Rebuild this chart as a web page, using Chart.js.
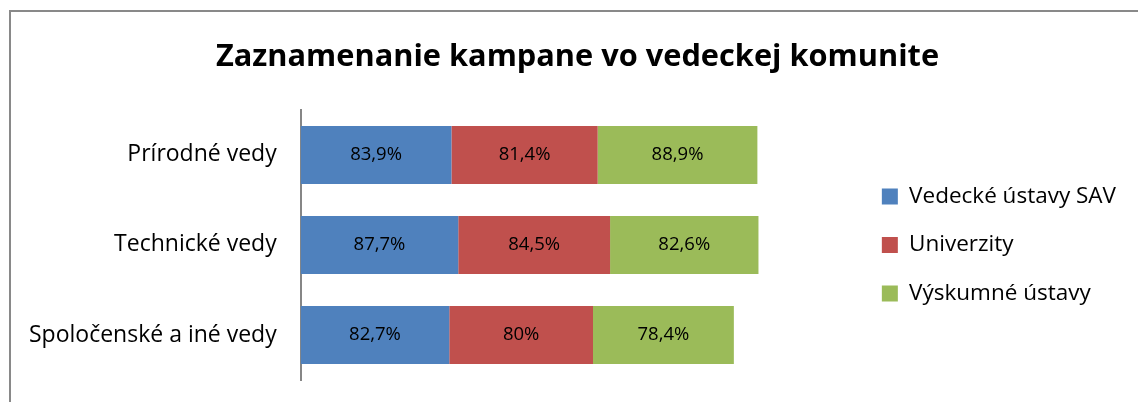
<!DOCTYPE html>
<html>
<head>
<meta charset="utf-8">
<script src="https://cdn.jsdelivr.net/npm/chart.js@4"></script>
<style>
  html, body { margin: 0; padding: 0; background: #fff; overflow: hidden; }
  .frame { position: absolute; left: 9px; top: 10px; width: 2000px; height: 1000px;
           border-left: 2px solid #898989; border-top: 2px solid #898989; }
  #myChart { position: absolute; left: 0; top: 0; }
</style>
</head>
<body>
<div class="frame"></div>
<canvas id="myChart" width="1138" height="402"></canvas>
<script>
const categories = ['Prírodné vedy', 'Technické vedy', 'Spoločenské a iné vedy'];
const seriesNames = ['Vedecké ústavy SAV', 'Univerzity', 'Výskumné ústavy'];
const sav = [83.9, 87.7, 82.7];
const univerzity = [81.4, 84.5, 80];
const vyskumne = [88.9, 82.6, 78.4];
const colors = ['#4f81bd', '#c0504d', '#9bbb59'];

const font = 'Open Sans';

// labels inside the bars, with a comma as decimal separator
const barLabels = {
    id: 'barLabels',
    afterDatasetsDraw(chart) {
        const ctx = chart.ctx;
        ctx.save();
        ctx.font = '18.5px "' + font + '"';
        ctx.fillStyle = '#000';
        ctx.textAlign = 'center';
        ctx.textBaseline = 'middle';
        chart.data.datasets.forEach(function (ds, i) {
            chart.getDatasetMeta(i).data.forEach(function (bar, j) {
                const txt = String(ds.data[j]).replace('.', ',') + '%';
                const x = (bar.x + bar.base) / 2;
                ctx.fillText(txt, x, bar.y);
            });
        });
        ctx.restore();
    }
};

const ctx = document.getElementById('myChart').getContext('2d');
const myChart = new Chart(ctx, {
    type: 'bar',
    data: {
        labels: categories,
        datasets: [
            { label: seriesNames[0], data: sav, backgroundColor: colors[0] },
            { label: seriesNames[1], data: univerzity, backgroundColor: colors[1] },
            { label: seriesNames[2], data: vyskumne, backgroundColor: colors[2] }
        ]
    },
    options: {
        indexAxis: 'y',
        responsive: false,
        animation: false,
        datasets: {
            bar: { categoryPercentage: 0.644, barPercentage: 1, borderWidth: 0 }
        },
        layout: { padding: { left: 29, right: 12, top: 0, bottom: 22 } },
        scales: {
            x: {
                display: false,
                stacked: true,
                min: 0,
                max: 309
            },
            y: {
                stacked: true,
                // invisible tick marks keep the labels away from the axis line
                grid: { display: true, drawOnChartArea: false, drawTicks: true, tickLength: 24, tickColor: 'rgba(0,0,0,0)' },
                border: { display: true, color: '#868686', width: 2 },
                ticks: { color: '#000', padding: 0, font: { family: font, size: 23 } }
            }
        },
        plugins: {
            title: {
                display: true,
                text: 'Zaznamenanie kampane vo vedeckej komunite',
                color: '#000',
                font: { family: font, size: 30.75, weight: 'bold' },
                padding: { top: 39, bottom: 34 }
            },
            legend: {
                position: 'right',
                fullSize: false,
                labels: {
                    color: '#000',
                    boxWidth: 16,
                    boxHeight: 16,
                    padding: 26,
                    font: { family: font, size: 22.5 }
                }
            },
            tooltip: { enabled: false }
        }
    },
    plugins: [barLabels]
});
</script>
</body>
</html>
